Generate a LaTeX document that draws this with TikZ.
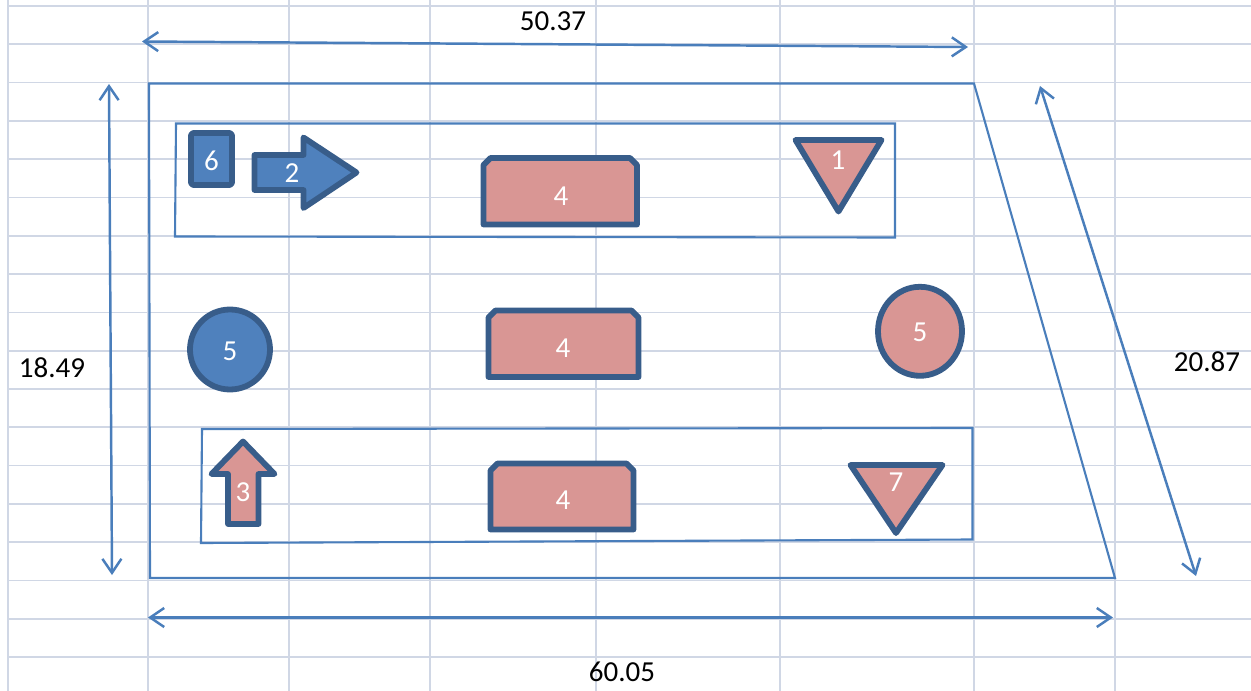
\documentclass[tikz,border=0pt]{standalone}
\usepackage{fontspec}
\setmainfont{Carlito}
\usepackage{tikz}
\usetikzlibrary{arrows.meta}

\definecolor{gridc}{HTML}{D0D7E5}
\definecolor{linec}{HTML}{4A7EBB}
\definecolor{bluef}{HTML}{4F81BD}
\definecolor{pinkf}{HTML}{D99694}
\definecolor{edgec}{HTML}{385D8A}

\begin{document}
\begin{tikzpicture}[x=0.2mm, y=-0.2mm, >={Straight Barb[length=2.8mm,width=3.8mm]},
  gridline/.style={draw=gridc, line width=1pt},
  frame/.style={draw=linec, line width=1.2pt},
  dim/.style={draw=linec, line width=1.4pt, <->},
  dimlabel/.style={font=\fontsize{16.5}{18}\selectfont, inner sep=0pt},
  blueshape/.style={draw=edgec, fill=bluef, line width=3.3pt, line join=round},
  pinkshape/.style={draw=edgec, fill=pinkf, line width=3.3pt, line join=round},
  lbl/.style={text=white, font=\fontsize{16.5}{18}\selectfont, inner sep=0pt}]
  \useasboundingbox (0,0) rectangle (1251,691);
  \foreach \gx in {8,148,289,430,596,780,974,1115}
    \draw[gridline] (\gx,0) -- (\gx,691);
  \foreach \k in {0,...,17}
    \draw[gridline] (8,{6+38.3*\k}) -- (1251,{6+38.3*\k});

  \coordinate (tl) at (149,83.5);
  \coordinate (tr) at (974,83.5);
  \coordinate (br) at (1115,578);
  \coordinate (bl) at (150,578);
  \draw[frame] (tl) -- (tr) -- (br) -- (bl) -- cycle;
  \draw[frame] (176,123.5) -- (895,123.5) -- (895,237.5) -- (175,236.5) -- cycle;
  \draw[frame] (202,429) -- (972.5,428) -- (972.5,539.5) -- (201,543) -- cycle;

  \coordinate (topa) at (142,41.5);
  \coordinate (topb) at (968,47);
  \coordinate (bota) at (148,617.5);
  \coordinate (botb) at (1113,617.5);
  \coordinate (lefta) at (109,84);
  \coordinate (leftb) at (112,575);
  \coordinate (righta) at (1040,86);
  \coordinate (rightb) at (1196,576);
  \draw[dim] (topa) -- (topb);
  \draw[dim] (bota) -- (botb);
  \draw[dim] (lefta) -- (leftb);
  \draw[dim] (righta) -- (rightb);
  \node[dimlabel] (toplen) at (553,21) {50.37};
  \node[dimlabel] (botlen) at (622,672) {60.05};
  \node[dimlabel] (leftlen) at (52,368) {18.49};
  \node[dimlabel] (rightlen) at (1207,362) {20.87};

  \draw[blueshape, rounded corners=1.5pt] (191,133) rectangle (232,185);
  \draw[blueshape] (254.5,155) -- (303.5,155) -- (303.5,137.5) -- (356.5,172.5)
    -- (303.5,208) -- (303.5,190) -- (254.5,190) -- cycle;
  \draw[blueshape] (230,349.5) circle (40);
  \draw[pinkshape] (920,331.3) ellipse [x radius=42, y radius=44.5];
  \draw[pinkshape] (795.5,140) -- (881.5,140) -- (838.5,211.5) -- cycle;
  \draw[pinkshape] (850.5,465) -- (942.5,465) -- (896,533) -- cycle;
  \draw[pinkshape] (228,524) -- (228,474) -- (211.5,474) -- (243,441.5)
    -- (274.5,474) -- (258.5,474) -- (258.5,524) -- cycle;
  \foreach \xa/\ya/\xb/\yb in {483.5/158/637/224.5, 488.5/310.5/638.5/377, 490.5/463.5/633.5/529.5}
    \draw[pinkshape] (\xa,\yb) -- (\xa,{\ya+7}) -- ({\xa+7},\ya) -- ({\xb-7},\ya)
      -- (\xb,{\ya+7}) -- (\xb,\yb) -- cycle;

  \node[lbl] (six) at (211.5,161) {6};
  \node[lbl] (two) at (292,173) {2};
  \node[lbl] (one) at (838,160) {1};
  \node[lbl] (fivea) at (230,351) {5};
  \node[lbl] (fiveb) at (920,332) {5};
  \node[lbl] (three) at (243,492) {3};
  \node[lbl] (seven) at (896,482) {7};
  \node[lbl] (foura) at (561,196) {4};
  \node[lbl] (fourb) at (563,348) {4};
  \node[lbl] (fourc) at (563,500) {4};
\end{tikzpicture}
\end{document}
